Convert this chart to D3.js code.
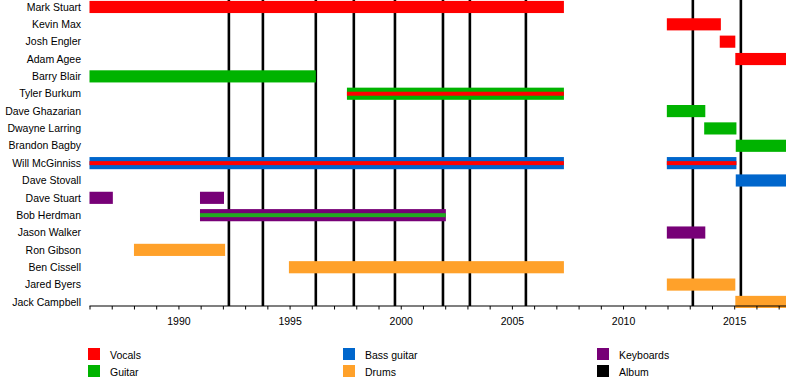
<!DOCTYPE html>
<html><head><meta charset="utf-8">
<script src="https://cdn.jsdelivr.net/npm/d3@7/dist/d3.min.js"></script>
<style>body{margin:0;background:#fff}svg{display:block;font-family:"Liberation Sans",Arial,sans-serif}</style>
</head><body><svg id="c" width="800" height="386"></svg>
<script>
const members = ["Mark Stuart","Kevin Max","Josh Engler","Adam Agee","Barry Blair","Tyler Burkum","Dave Ghazarian","Dwayne Larring","Brandon Bagby","Will McGinniss","Dave Stovall","Dave Stuart","Bob Herdman","Jason Walker","Ron Gibson","Ben Cissell","Jared Byers","Jack Campbell"];
// [member, start, end, main role, stripe role or null]
const periods = [
  ["Mark Stuart",1986,2007.34,"Vocals",null],
  ["Kevin Max",2011.97,2014.4,"Vocals",null],
  ["Josh Engler",2014.35,2015.05,"Vocals",null],
  ["Adam Agee",2015.05,2017.33,"Vocals",null],
  ["Barry Blair",1986,1996.18,"Guitar",null],
  ["Tyler Burkum",1997.58,2007.34,"Guitar","Vocals"],
  ["Dave Ghazarian",2011.97,2013.7,"Guitar",null],
  ["Dwayne Larring",2013.65,2015.1,"Guitar",null],
  ["Brandon Bagby",2015.07,2017.33,"Guitar",null],
  ["Will McGinniss",1986,2007.34,"Bass guitar","Vocals"],
  ["Will McGinniss",2011.97,2015.1,"Bass guitar","Vocals"],
  ["Dave Stovall",2015.07,2017.33,"Bass guitar",null],
  ["Dave Stuart",1986,1987.05,"Keyboards",null],
  ["Dave Stuart",1990.97,1992.05,"Keyboards",null],
  ["Bob Herdman",1990.97,2002.03,"Keyboards","Guitar"],
  ["Jason Walker",2011.97,2013.7,"Keyboards",null],
  ["Ron Gibson",1988.0,1992.1,"Drums",null],
  ["Ben Cissell",1994.97,2007.34,"Drums",null],
  ["Jared Byers",2011.97,2015.05,"Drums",null],
  ["Jack Campbell",2015.05,2017.33,"Drums",null]
];
const albums = [1992.27,1993.8,1996.18,1997.89,1999.74,2001.9,2003.11,2005.63,2013.14,2015.3];
const roles = ["Vocals","Guitar","Bass guitar","Drums","Keyboards","Album"];
const roleColors = ["#ff0000","#00b300","#0066cc","#ffa12a","#770077","#000000"];
const yearLabels = [1990,1995,2000,2005,2010,2015];

const svg = d3.select("#c");
const color = d3.scaleOrdinal().domain(roles).range(roleColors);
const x = d3.scaleLinear().domain([1986,2017.33]).range([89.5,786]);
const y = d3.scaleBand().domain(members).range([-1.7,310.6]).paddingInner(0.3).paddingOuter(0.15);
const axisY = 306;

// album lines
svg.append("g").selectAll("line").data(albums).join("line")
  .attr("x1",d=>x(d)).attr("x2",d=>x(d)).attr("y1",0).attr("y2",axisY)
  .attr("stroke","#000").attr("stroke-width",2.6);

// bars
const bars = svg.append("g");
bars.selectAll("rect.main").data(periods).join("rect").attr("class","main")
  .attr("x",d=>x(d[1])).attr("width",d=>x(d[2])-x(d[1]))
  .attr("y",d=>y(d[0])).attr("height",y.bandwidth())
  .attr("fill",d=>color(d[3]));
bars.selectAll("rect.stripe").data(periods.filter(d=>d[4])).join("rect").attr("class","stripe")
  .attr("x",d=>x(d[1])).attr("width",d=>x(d[2])-x(d[1]))
  .attr("y",d=>y(d[0])+y.bandwidth()/2-2).attr("height",4)
  .attr("fill",d=>d[4]==="Guitar"?"#22aa22":color(d[4]));

// member labels
svg.append("g").selectAll("text").data(members).join("text")
  .attr("x",81).attr("y",d=>y(d)+y.bandwidth()/2).attr("dy","0.35em")
  .attr("text-anchor","end").attr("font-size",10.5).attr("fill","#000").text(d=>d);

// axis
const ax = svg.append("g").attr("transform",`translate(0,${axisY})`)
  .call(d3.axisBottom(x).tickValues(d3.range(1986,2018)).tickSize(3.5).tickFormat(d=>yearLabels.includes(d)?String(d):""));
ax.select(".domain").attr("stroke","#000").attr("stroke-width",1.2).attr("d",`M${x(1986)},0H${x(2017.33)}`);
ax.selectAll(".tick line").attr("stroke","#000");
ax.selectAll(".tick text").attr("font-size",10.5).attr("font-family","Liberation Sans, Arial, sans-serif").attr("fill","#000").attr("dy","1.2em");

// legend
const legCols = [88,343,597];
const leg = svg.append("g").selectAll("g").data(roles).join("g")
  .attr("transform",(d,i)=>`translate(${legCols[Math.floor(i/2)]},${348+(i%2)*17})`);
leg.append("rect").attr("width",12).attr("height",12).attr("fill",d=>color(d));
leg.append("text").attr("x",22).attr("y",7.5).attr("dy","0.35em").attr("font-size",10.5).attr("fill","#000").text(d=>d);
</script></body></html>
